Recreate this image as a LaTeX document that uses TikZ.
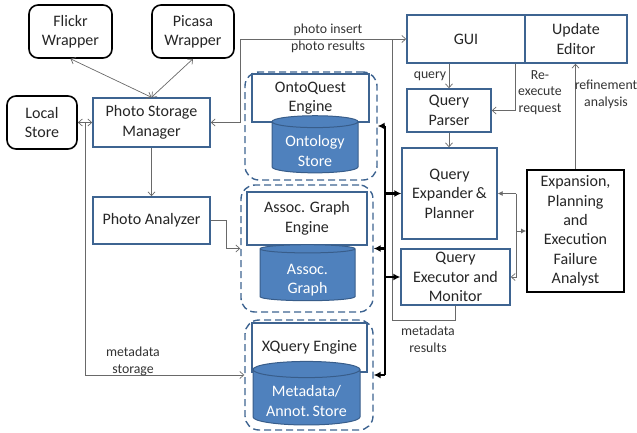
\documentclass[tikz,border=0pt]{standalone}
\usepackage{fontspec}
\setmainfont{Carlito}
\usetikzlibrary{shapes.geometric,arrows.meta,calc}
\definecolor{boxblue}{RGB}{62,100,145}
\definecolor{cylblue}{RGB}{79,129,189}
\definecolor{cylline}{RGB}{56,93,138}
\definecolor{lineg}{RGB}{105,105,105}
\newcommand{\bfnt}{\fontsize{16}{19.4}\selectfont}
\newcommand{\lfnt}{\fontsize{13.8}{16.8}\selectfont}
\newcommand{\cyltxt}[2]{\raisebox{-5pt}[\height][\depth]{\begin{tabular}{@{}c@{}}#1\\#2\end{tabular}}}
\begin{document}
\begin{tikzpicture}[x=1pt,y=-1pt,
  bluebox/.style={draw=boxblue,line width=1.4pt,fill=white,align=center,font=\bfnt,text=black!85,inner sep=1pt},
  roundbox/.style={draw=black,line width=1.6pt,rounded corners=9pt,fill=white,align=center,font=\bfnt,text=black!85,inner sep=1pt},
  blackbox/.style={draw=black,line width=1.8pt,fill=white,align=center,font=\bfnt,text=black!85,inner sep=1pt},
  container/.style={draw=boxblue,line width=1.4pt,dash pattern=on 7pt off 4pt,rounded corners=14pt},
  store/.style={cylinder,shape border rotate=90,aspect=0.2,draw=cylline,line width=1pt,fill=cylblue,text=white,font=\bfnt,inner sep=0pt},
  conn/.style={draw=lineg,line width=0.7pt},
  open/.style={-{Straight Barb[length=4pt,width=7pt]}},
  both/.style={{Straight Barb[length=4pt,width=7pt]}-{Straight Barb[length=4pt,width=7pt]}},
  filled/.style={-{Latex[length=5pt,width=5pt]}},
  busline/.style={draw=black,line width=2.2pt},
  busarrow/.style={-{Latex[length=7pt,width=7pt]}},
  lbl/.style={font=\lfnt,text=black!80,align=center,inner sep=1pt},
]
\useasboundingbox (0,0) rectangle (637,432);

% dashed containers
\node[container,minimum width=132pt,minimum height=108pt] (ontoC) at (311,126) {};
\node[container,minimum width=132pt,minimum height=127pt] (assocC) at (307,248.5) {};
\node[container,minimum width=128pt,minimum height=110pt] (xqC) at (309,375) {};

% left side
\node[roundbox,minimum width=83pt,minimum height=53pt] (flickr) at (70.5,31.5) {Flickr\\Wrapper};
\node[roundbox,minimum width=82pt,minimum height=53pt] (picasa) at (193,31.5) {Picasa\\Wrapper};
\node[roundbox,minimum width=70pt,minimum height=53pt] (local) at (42,122.5) {Local\\Store};
\node[bluebox,minimum width=117pt,minimum height=49pt] (psm) at (151.5,122.5) {Photo Storage\\Manager};
\node[bluebox,minimum width=117pt,minimum height=47pt] (pa) at (151.5,220.5) {Photo Analyzer};

% engines and stores
\node[bluebox,minimum width=117pt,minimum height=48pt] (onto) at (310.5,98) {OntoQuest\\Engine};
\node[store,minimum width=86pt,minimum height=49pt] (ontoS) at (315,147.5) {\cyltxt{Ontology}{Store}};
\node[bluebox,minimum width=120pt,minimum height=53pt] (assoc) at (307,218.5) {Assoc. Graph\\Engine};
\node[store,minimum width=95pt,minimum height=56pt] (assocS) at (307.5,275) {\cyltxt{Assoc.}{Graph}};
\node[bluebox,minimum width=115pt,minimum height=49pt] (xq) at (309.5,347.5) {XQuery Engine};
\node[store,minimum width=107pt,minimum height=51pt] (metaS) at (306.5,397.5) {\cyltxt{Metadata/}{Annot.\,Store}};

% right side
\node[bluebox,minimum width=118pt,minimum height=48pt] (gui) at (466,39) {GUI};
\node[bluebox,minimum width=102pt,minimum height=48pt] (ue) at (576,39) {Update\\Editor};
\node[bluebox,minimum width=84pt,minimum height=43pt] (qp) at (449,110.5) {Query\\Parser};
\node[bluebox,minimum width=95pt,minimum height=91pt] (qexp) at (449.5,193.5) {Query\\Expander\,\&\\Planner};
\node[bluebox,minimum width=109pt,minimum height=56pt] (qexec) at (455.5,277) {Query\\Executor and\\Monitor};
\node[blackbox,minimum width=97pt,minimum height=122pt] (exp) at (575.5,231) {Expansion,\\Planning\\and\\Execution\\Failure\\Analyst};

% left connectors
\draw[conn,both] (flickr.south) -- (psm.north);
\draw[conn,both] (picasa.south) -- (psm.north);
\draw[conn,both] (local.east) -- (psm.west);
\draw[conn,open] (psm.south) -- (pa.north);
\draw[conn,open] (pa.east) -- ++(16,0) |- (assocC.west);
\coordinate (msTop) at ($(local.east)!0.55!(psm.west)$);
\draw[conn,open] (msTop) |- (xqC.west);
\node[lbl] (msLbl) at (133,361) {metadata\\storage};

% photo insert / results
\draw[conn,both] (psm.east) -- ++(30,0) |- (gui.west);
\node[lbl] (phLbl) at (328,38.5) {photo insert\\photo results};
\coordinate (mrJoin) at (392,39);
\draw[conn] (qexec.south) -- ++(0,15) -| (mrJoin);
\node[lbl] (mrLbl) at (428,339.5) {metadata\\results};

% bus
\coordinate (busx) at (385,0);
\draw[busline] (ontoC.east -| busx) -- (xqC.east -| busx);
\draw[busline,busarrow] (ontoC.east -| busx) -- (ontoC.east);
\draw[busline,busarrow] (assocC.east -| busx) -- (assocC.east);
\draw[busline,busarrow] (xqC.east -| busx) -- (xqC.east);
\draw[busline,busarrow] (qexp.west -| busx) -- (qexp.west);
\draw[busline,busarrow] (qexec.west -| busx) -- (qexec.west);

% GUI side
\draw[conn,open] (qp.north |- gui.south) -- (qp.north);
\node[lbl] (qLbl) at (430,76) {query};
\draw[conn,open] ([xshift=49pt]gui.south) |- (qp.east);
\node[lbl] (reLbl) at (540,92.5) {Re-\\execute\\request};
\draw[conn,open] (qp.south) -- (qp.south |- qexp.north);
\draw[conn,open] (exp.north) -- (exp.north |- ue.south);
\node[lbl] (rfLbl) at (606,94.5) {refinement\\analysis};

% expander / executor / analyst
\coordinate (brx) at (516,0);
\draw[conn,filled] (qexp.east -| brx) -- (qexp.east);
\draw[conn,open] (qexp.east -| brx) -- (qexec.east -| brx) -- (qexec.east);
\draw[conn,filled] (exp.west -| brx) -- (exp.west);
\end{tikzpicture}
\end{document}
